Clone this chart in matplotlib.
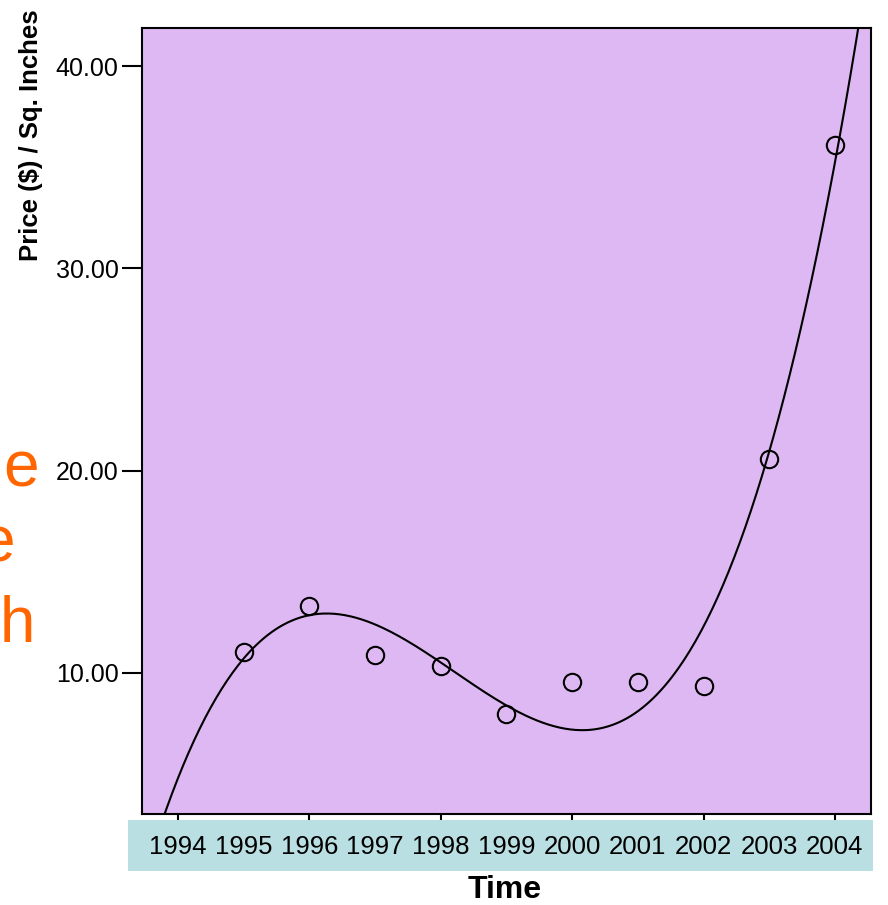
import numpy as np
import matplotlib
matplotlib.use("Agg")
import matplotlib.pyplot as plt
from matplotlib.patches import Rectangle

plt.rcParams['font.family'] = ['Liberation Sans', 'DejaVu Sans']

# datos
anios = [1995, 1996, 1997, 1998, 1999, 2000, 2001, 2002, 2003, 2004]
precio = [11.0, 13.3, 10.85, 10.3, 7.95, 9.55, 9.55, 9.35, 20.55, 36.1]
etiquetas_x = [1994, 1995, 1996, 1997, 1998, 1999, 2000, 2001, 2002, 2003, 2004]
ticks_y = [10, 20, 30, 40]

# ajuste cubico (curve estimation)
coef = np.polyfit(anios, precio, 3)
t = np.linspace(1993.4, 2004.6, 400)
curva = np.polyval(coef, t)

fig = plt.figure(figsize=(8.88, 9.05), dpi=100)
ax = fig.add_axes([142/888, 1 - 814/905, (871-142)/888, (814-28)/905])
ax.set_facecolor('#DEB8F2')

ax.plot(t, curva, color='black', lw=1.5)
ax.plot(anios, precio, 'o', ms=12.5, mfc='none', mec='black', mew=1.5)

ax.set_xlim(1993.45, 2004.55)
ax.set_ylim(3.0, 41.9)

ax.set_yticks(ticks_y)
ax.set_yticklabels([f'{v:.2f}' for v in ticks_y], fontsize=18)
ax.tick_params(axis='y', length=14.5, width=1.5, pad=2.5)

# etiquetas en cada anio, marcas solo en los pares
ax.set_xticks(etiquetas_x)
ax.set_xticklabels([str(a) for a in etiquetas_x], fontsize=18.5)
ax.tick_params(axis='x', which='major', length=0, pad=15)
ax.xaxis.remove_overlapping_locs = False
ax.set_xticks([a for a in etiquetas_x if a % 2 == 0], minor=True)
ax.tick_params(axis='x', which='minor', length=4, width=1.5)

for s in ax.spines.values():
    s.set_linewidth(1.5)

ax.set_ylabel('Price ($) / Sq. Inches', fontsize=18.5, fontweight='bold')
ax.yaxis.set_label_coords((43 - 142) / (871 - 142), 1 - (135 - 28) / (814 - 28))

# banda de las etiquetas del eje x
fig.patches.append(Rectangle((128/888, 1 - 871/905), (873-128)/888, (871-820)/905,
                             transform=fig.transFigure, facecolor='#BADFE2',
                             edgecolor='none', zorder=-1))

fig.text(505/888, 1 - 890/905, 'Time', fontsize=23, fontweight='bold',
         ha='center', va='center')

# restos de texto de la diapositiva
naranja = '#FF6600'
fig.text(39/888, 1 - 486/905, 'e', fontsize=46, color=naranja, ha='right', va='baseline')
fig.text(15/888, 1 - 561/905, 'e', fontsize=46, color=naranja, ha='right', va='baseline')
fig.text(35/888, 1 - 642/905, 'h', fontsize=46, color=naranja, ha='right', va='baseline')

fig.savefig('out.png', dpi=100)
